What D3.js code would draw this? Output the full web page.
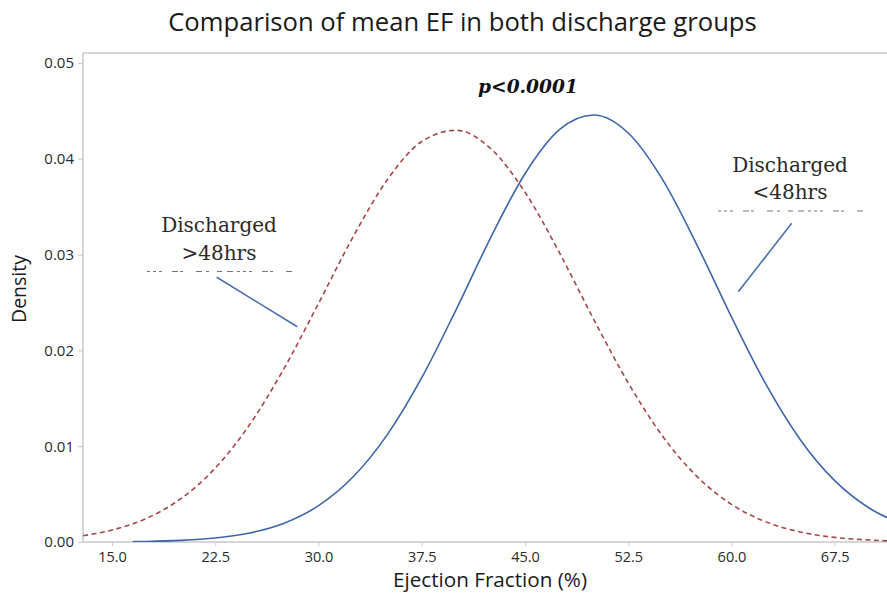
<!DOCTYPE html>
<html>
<head>
<meta charset="utf-8">
<script src="https://cdn.jsdelivr.net/npm/d3@7"></script>
<style>
  html, body { margin: 0; padding: 0; background: #ffffff; }
  svg { display: block; }
</style>
</head>
<body>
<svg id="chart" width="887" height="593"></svg>
<script>
// ---- data ----
const chartTitle = "Comparison of mean EF in both discharge groups";
const xLabel = "Ejection Fraction (%)";
const yLabel = "Density";
const pText = "p<0.0001";

const xTickValues = [15.0, 22.5, 30.0, 37.5, 45.0, 52.5, 60.0, 67.5];
const yTickValues = [0.00, 0.01, 0.02, 0.03, 0.04, 0.05];

// Discharged >48hrs (red dashed)
const redX = [12.9, 15, 17.5, 20, 22.5, 25, 27.5, 30, 32.5, 35, 37.5, 40, 42.5, 45, 47.5, 50, 52.5, 55, 57.5, 60, 62.5, 65, 67.5, 70, 72];
const redY = [0.00066, 0.00125, 0.00246, 0.00452, 0.00772, 0.01226, 0.01812, 0.02490, 0.03182, 0.03782, 0.04180, 0.04297, 0.04108, 0.03652, 0.03020, 0.02322, 0.01661, 0.01104, 0.00683, 0.00393, 0.00210, 0.00105, 0.00048, 0.00021, 0.00010];

// Discharged <48hrs (blue solid)
const blueX = [16.5, 17.5, 20, 22.5, 25, 27.5, 30, 32.5, 35, 37.5, 40, 42.5, 45, 47.5, 50, 52.5, 55, 57.5, 60, 62.5, 65, 67.5, 70, 72];
const blueY = [0.00004, 0.00006, 0.00017, 0.00042, 0.00094, 0.00196, 0.00379, 0.00678, 0.01121, 0.01715, 0.02426, 0.03175, 0.03844, 0.04304, 0.04457, 0.04269, 0.03782, 0.03099, 0.02349, 0.01647, 0.01068, 0.00640, 0.00355, 0.00210];

const groupLabels = [["Discharged", ">48hrs"], ["Discharged", "<48hrs"]];

// ---- drawing ----
const svg = d3.select("#chart");
const pLeft = 83, pRight = 887, pTop = 53, pBottom = 542;

const x = d3.scaleLinear().domain([12.89, 71.3]).range([pLeft, pRight]);
const y = d3.scaleLinear().domain([0, 0.05104]).range([pBottom, pTop]);

const sans = "'Open Sans', 'Noto Sans', sans-serif";
const serif = "'DejaVu Serif', serif";
const axisGray = "#c9c9c9";

// scale a text's font size so that it spans a target width
function fitWidth(sel, target) {
  const node = sel.node();
  const fs = parseFloat(sel.attr("font-size"));
  const w = node.getComputedTextLength();
  if (w > 0) sel.attr("font-size", (fs * target / w).toFixed(2));
  return sel;
}

// title
const titleText = svg.append("text")
  .attr("x", 462.5).attr("y", 31)
  .attr("text-anchor", "middle")
  .attr("font-family", sans).attr("font-size", 24)
  .attr("fill", "#1a1a1a")
  .text(chartTitle);
fitWidth(titleText, 589);

// frame top line
svg.append("line")
  .attr("x1", pLeft).attr("x2", pRight).attr("y1", pTop).attr("y2", pTop)
  .attr("stroke", axisGray).attr("stroke-width", 1.5);

// y axis
const yAxis = d3.axisLeft(y).tickValues(yTickValues).tickFormat(d3.format(".2f")).tickSize(5).tickPadding(4);
const gy = svg.append("g").attr("transform", `translate(${pLeft},0)`).call(yAxis);
gy.select(".domain").attr("stroke", axisGray).attr("stroke-width", 1.5).attr("d", `M0,${pTop}V${pBottom}`);
gy.selectAll(".tick line").attr("stroke", axisGray);
gy.selectAll(".tick text").attr("font-family", sans).attr("font-size", 15).attr("fill", "#2a2a2a");

// x axis
const xAxis = d3.axisBottom(x).tickValues(xTickValues).tickFormat(d3.format(".1f")).tickSize(4).tickPadding(6);
const gx = svg.append("g").attr("transform", `translate(0,${pBottom})`).call(xAxis);
gx.select(".domain").attr("stroke", axisGray).attr("stroke-width", 1.5).attr("d", `M${pLeft},0H${pRight}`);
gx.selectAll(".tick line").attr("stroke", axisGray);
gx.selectAll(".tick text").attr("font-family", sans).attr("font-size", 14.5).attr("fill", "#2a2a2a");

// axis titles
const xt = svg.append("text")
  .attr("x", 490).attr("y", 587)
  .attr("text-anchor", "middle")
  .attr("font-family", sans).attr("font-size", 19)
  .attr("fill", "#1a1a1a")
  .text(xLabel);
fitWidth(xt, 194);

const yt = svg.append("text")
  .attr("transform", "translate(26,289) rotate(-90)")
  .attr("text-anchor", "middle")
  .attr("font-family", sans).attr("font-size", 19)
  .attr("fill", "#1a1a1a")
  .text(yLabel);
fitWidth(yt, 68);

// clip
svg.append("clipPath").attr("id", "plotclip")
  .append("rect").attr("x", pLeft).attr("y", pTop).attr("width", pRight - pLeft).attr("height", pBottom - pTop);

const line = d3.line().x(d => x(d[0])).y(d => y(d[1])).curve(d3.curveMonotoneX);

const plot = svg.append("g").attr("clip-path", "url(#plotclip)");

plot.append("path")
  .datum(redX.map((v, i) => [v, redY[i]]))
  .attr("d", line)
  .attr("fill", "none")
  .attr("stroke", "#a5474a")
  .attr("stroke-width", 1.6)
  .attr("stroke-dasharray", "5,3.5");

plot.append("path")
  .datum(blueX.map((v, i) => [v, blueY[i]]))
  .attr("d", line)
  .attr("fill", "none")
  .attr("stroke", "#3d66aa")
  .attr("stroke-width", 1.6);

// p-value
const pt = svg.append("text")
  .attr("x", 528).attr("y", 93)
  .attr("text-anchor", "middle")
  .attr("font-family", serif).attr("font-size", 18)
  .attr("font-weight", "bold").attr("font-style", "italic")
  .attr("fill", "#111")
  .text(pText);
fitWidth(pt, 100);

// group annotations
const annos = [
  { lines: groupLabels[0], cx: 219, y1: 232, y2: 260, sepX1: 147, sepX2: 296, sepY: 271.5,
    lead: [216.7, 277.3, 297.3, 326.7] },
  { lines: groupLabels[1], cx: 790, y1: 172, y2: 199, sepX1: 718, sepX2: 865, sepY: 211,
    lead: [791.7, 223.3, 738.3, 291.7] }
];

annos.forEach(a => {
  svg.append("text").attr("x", a.cx).attr("y", a.y1).attr("text-anchor", "middle")
    .attr("font-family", serif).attr("font-size", 20).attr("fill", "#2a2a2a").text(a.lines[0]);
  svg.append("text").attr("x", a.cx).attr("y", a.y2).attr("text-anchor", "middle")
    .attr("font-family", serif).attr("font-size", 20).attr("fill", "#2a2a2a").text(a.lines[1]);
  svg.append("line")
    .attr("x1", a.sepX1).attr("x2", a.sepX2).attr("y1", a.sepY).attr("y2", a.sepY)
    .attr("stroke", "#777").attr("stroke-width", 1)
    .attr("stroke-dasharray", "3,3,3,3,3,10,6,2,3,13,6,4,3,8,5,5,6,4");
  svg.append("line")
    .attr("x1", a.lead[0]).attr("y1", a.lead[1]).attr("x2", a.lead[2]).attr("y2", a.lead[3])
    .attr("stroke", "#4a70ac").attr("stroke-width", 1.6);
});
</script>
</body>
</html>
